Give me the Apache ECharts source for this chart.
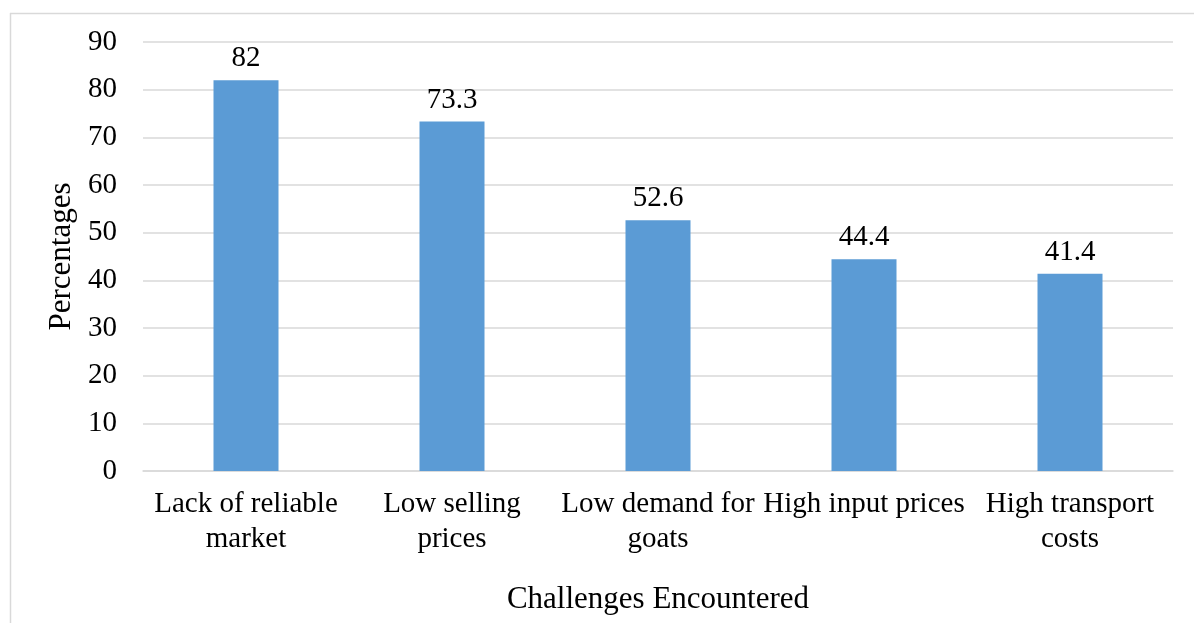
<!DOCTYPE html>
<html>
<head>
<meta charset="utf-8">
<script src="https://cdn.jsdelivr.net/npm/echarts@6/dist/echarts.min.js"></script>
<style>
  html, body { margin: 0; padding: 0; background: #fff; }
  #main { width: 1194px; height: 623px; }
</style>
</head>
<body>
<div id="main"></div>
<script>
// 数据
const categories = [
    'Lack of reliable\nmarket',
    'Low selling\nprices',
    'Low demand for\ngoats',
    'High input prices',
    'High transport\ncosts'
];
const percentages = [82, 73.3, 52.6, 44.4, 41.4];

const fontFamily = '"Liberation Serif", "Times New Roman", serif';

let myChart = echarts.init(document.getElementById('main'));

let option = {
    backgroundColor: '#fff',
    animation: false,
    textStyle: { fontFamily: fontFamily },
    grid: {
        left: 143,
        right: 21,
        top: 42,
        bottom: 152
    },
    // 外框（左、上边）
    graphic: [
        { type: 'line', shape: { x1: 10.5, y1: 13, x2: 10.5, y2: 623 }, style: { stroke: '#d9d9d9', lineWidth: 1.5 } },
        { type: 'line', shape: { x1: 10, y1: 13.5, x2: 1194, y2: 13.5 }, style: { stroke: '#d9d9d9', lineWidth: 1.5 } }
    ],
    xAxis: {
        type: 'category',
        data: categories,
        name: 'Challenges Encountered',
        nameLocation: 'middle',
        nameGap: 113,
        nameTextStyle: { color: '#000', fontSize: 31, fontFamily: fontFamily },
        axisLine: { lineStyle: { color: '#d9d9d9', width: 1.5 } },
        axisTick: { show: false },
        axisLabel: {
            color: '#000',
            fontSize: 29,
            lineHeight: 35,
            margin: 16,
            interval: 0,
            fontFamily: fontFamily
        }
    },
    yAxis: {
        type: 'value',
        min: 0,
        max: 90,
        interval: 10,
        name: 'Percentages',
        nameLocation: 'middle',
        nameGap: 58,
        nameRotate: 90,
        nameTextStyle: { color: '#000', fontSize: 31, fontFamily: fontFamily },
        axisLine: { show: false },
        axisTick: { show: false },
        axisLabel: { color: '#000', fontSize: 29, margin: 26, fontFamily: fontFamily },
        splitLine: { lineStyle: { color: '#d9d9d9', width: 1.5 } }
    },
    series: [
        {
            type: 'bar',
            data: percentages,
            barWidth: 65,
            itemStyle: { color: '#5b9bd5' },
            label: {
                show: true,
                position: 'top',
                distance: 7,
                color: '#000',
                fontSize: 29,
                fontFamily: fontFamily
            }
        }
    ]
};

myChart.setOption(option);
</script>
</body>
</html>
